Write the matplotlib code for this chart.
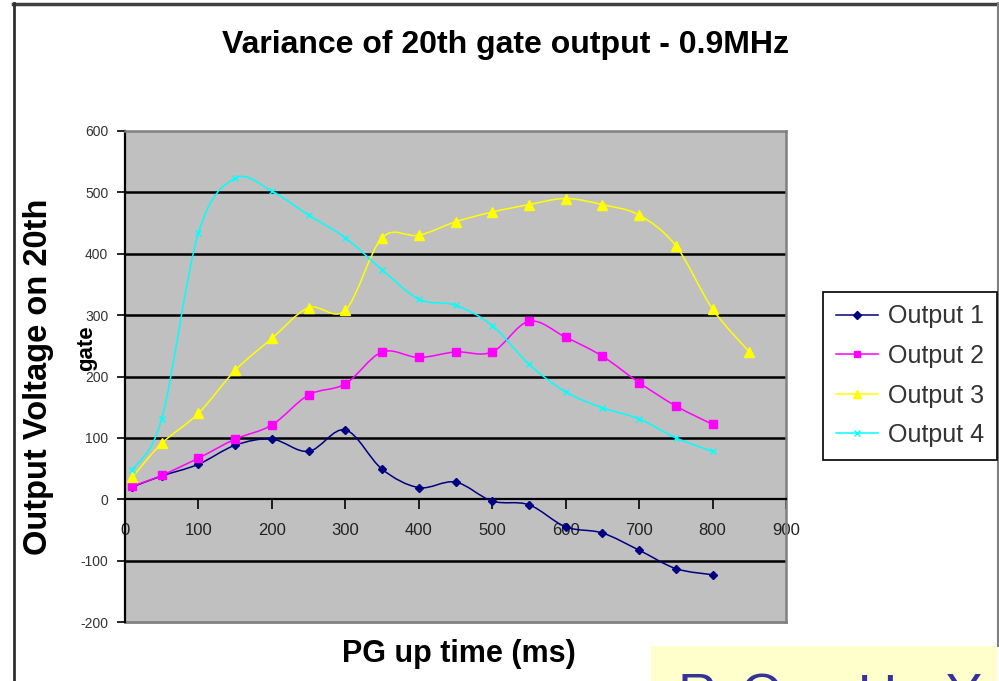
import matplotlib.pyplot as plt
import numpy as np
from matplotlib.lines import Line2D
from matplotlib.patches import PathPatch, Rectangle
from matplotlib.path import Path

# PG up time (ms)
times = [10, 50, 100, 150, 200, 250, 300, 350, 400, 450, 500, 550, 600, 650, 700, 750, 800]
times_3 = times + [850]

# Output voltage on the 20th gate
output_1 = [20, 38, 57, 88, 98, 78, 113, 49, 19, 28, -3, -9, -45, -55, -83, -113, -123]
output_2 = [21, 39, 67, 98, 121, 170, 188, 240, 231, 240, 240, 290, 264, 233, 190, 152, 122]
output_3 = [36, 91, 140, 210, 262, 312, 308, 426, 430, 452, 468, 480, 490, 480, 463, 413, 310, 240]
output_4 = [48, 131, 434, 523, 502, 463, 426, 374, 326, 316, 283, 220, 175, 149, 131, 100, 78]

x_ticks = list(range(0, 1000, 100))
y_ticks = list(range(-200, 700, 100))

plt.rcParams['font.family'] = ['Liberation Sans', 'DejaVu Sans']

W, H = 999, 681


def fx(px):
    return px / W


def fy(py):
    return 1 - py / H


def smooth_path(xs, ys):
    """Smoothed line through the points (Catmull-Rom style Bezier segments)."""
    pts = np.column_stack([xs, ys]).astype(float)
    n = len(pts)
    verts = [pts[0]]
    codes = [Path.MOVETO]
    for i in range(n - 1):
        p0 = pts[max(i - 1, 0)]
        p1 = pts[i]
        p2 = pts[i + 1]
        p3 = pts[min(i + 2, n - 1)]
        verts += [p1 + (p2 - p0) / 6, p2 - (p3 - p1) / 6, p2]
        codes += [Path.CURVE4] * 3
    return Path(verts, codes)


fig = plt.figure(figsize=(W / 100, H / 100), dpi=100)
fig.patch.set_facecolor('white')

ax = fig.add_axes([fx(125), fy(622), fx(786) - fx(125), fy(131) - fy(622)])
ax.set_facecolor('#C0C0C0')
ax.set_xlim(0, 900)
ax.set_ylim(-200, 600)

# black gridlines
for v in y_ticks:
    if v not in (-200, 0, 600):
        ax.axhline(v, color='black', lw=1.8, zorder=1)
ax.axhline(-200, color='#808080', lw=2, zorder=1, clip_on=False)

series = [
    ('Output 1', times, output_1, '#000080', 'D', 4.5),
    ('Output 2', times, output_2, '#FF00FF', 's', 6),
    ('Output 3', times_3, output_3, '#FFFF00', '^', 7),
    ('Output 4', times, output_4, '#00FFFF', 'x', 5),
]

handles = []
for name, xs, ys, color, marker, ms in series:
    ax.add_patch(PathPatch(smooth_path(xs, ys), fill=False, edgecolor=color,
                           lw=1.1, zorder=3))
    ax.plot(xs, ys, linestyle='none', marker=marker, markersize=ms,
            color=color, markeredgecolor=color, zorder=4)
    handles.append(Line2D([], [], color=color, lw=1.1, marker=marker,
                          markersize=ms * 0.8, markeredgecolor=color, label=name))

# axes styling: x axis crosses at zero
ax.spines['bottom'].set_position(('data', 0))
ax.spines['bottom'].set_color('black')
ax.spines['bottom'].set_linewidth(1.6)
ax.spines['left'].set_color('black')
ax.spines['left'].set_linewidth(1.6)
for side in ('top', 'right'):
    ax.spines[side].set_color('#808080')
    ax.spines[side].set_linewidth(1.8)

ax.set_xticks(x_ticks)
ax.set_xticklabels([str(t) for t in x_ticks])
ax.set_yticks(y_ticks)
ax.set_yticklabels([str(t) for t in y_ticks])
ax.tick_params(axis='x', direction='out', length=7, width=1.2, pad=10,
               labelsize=12, labelcolor='#222222')
ax.tick_params(axis='y', direction='out', length=6, width=1.2, pad=6,
               labelsize=10, labelcolor='#333333')

# titles and axis labels
fig.text(fx(505), fy(53), 'Variance of 20th gate output - 0.9MHz', ha='center',
         va='baseline', fontsize=23, fontweight='bold')
fig.text(fx(459), fy(662), 'PG up time (ms)', ha='center', va='baseline',
         fontsize=22, fontweight='bold')
fig.text(fx(39), fy(377), 'Output Voltage on 20th', rotation=90, ha='center',
         va='center', fontsize=23.5, fontweight='bold')
fig.text(fx(87), fy(348), 'gate', rotation=90, ha='center', va='center',
         fontsize=16, fontweight='bold')

leg = fig.legend(handles=handles, loc='upper left',
                 bbox_to_anchor=(fx(823), fy(292)), bbox_transform=fig.transFigure,
                 fontsize=18, frameon=True, fancybox=False, framealpha=1,
                 edgecolor='black', handlelength=1.7, handletextpad=0.4,
                 labelspacing=0.62, borderpad=0.5, borderaxespad=0)
leg.get_frame().set_linewidth(1.2)
for t in leg.get_texts():
    t.set_color('#333333')

# slide frame
fig.add_artist(Line2D([fx(13), fx(998)], [fy(3.5), fy(3.5)], color='#404040', lw=2.5))
fig.add_artist(Line2D([fx(13.5), fx(13.5)], [fy(3), fy(681)], color='#303030', lw=2))
fig.add_artist(Line2D([fx(997.5), fx(997.5)], [fy(3), fy(646)], color='#808080', lw=1.5))

# pale yellow box at the bottom right
fig.add_artist(Rectangle((fx(651), 0), fx(997) - fx(651), fy(646), transform=fig.transFigure,
                         facecolor='#FFFFCC', edgecolor='none'))
for letter, px in zip(['R', 'O', 'U', 'Y'], [678, 740, 858, 946]):
    fig.text(fx(px), fy(672), letter, ha='left', va='top', fontsize=39,
             color='#333399')

fig.savefig('out.png', dpi=100, facecolor='white')
